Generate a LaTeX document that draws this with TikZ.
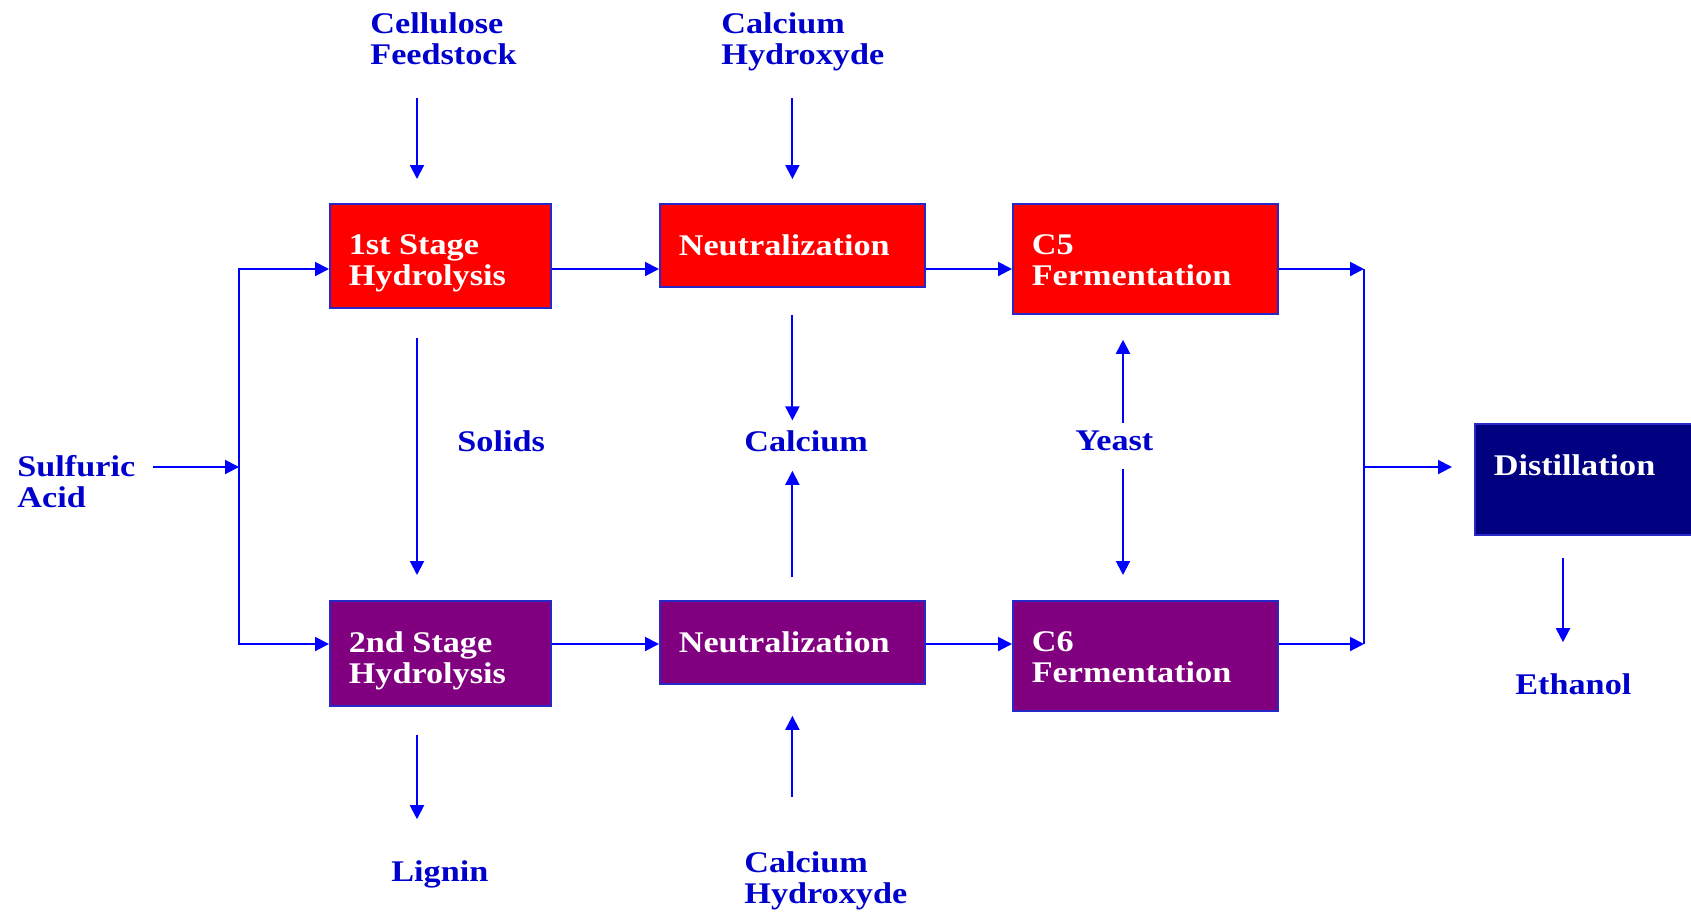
\documentclass[tikz,border=0pt]{standalone}
\usepackage{fontspec}
\setmainfont{Liberation Serif}[FakeStretch=1.14]
\usetikzlibrary{arrows.meta}
\definecolor{procred}{RGB}{255,0,0}
\definecolor{procpurple}{RGB}{128,0,128}
\definecolor{procnavy}{RGB}{0,0,128}
\definecolor{flowblue}{RGB}{0,0,255}
\definecolor{edgeblue}{RGB}{40,40,200}
\definecolor{textblue}{RGB}{0,0,204}

\begin{document}
\begin{tikzpicture}[x=0.5pt,y=-0.5pt,
  font=\fontsize{15}{15.5}\selectfont\bfseries,
  unit/.style={draw=edgeblue, line width=0.9pt, anchor=north west, inner sep=0pt},
  inside/.style={anchor=north west, inner sep=0pt, align=left, text=white,
    xshift=9.7pt, yshift=-15.8pt},
  stream/.style={anchor=west, inner sep=0pt, align=left, text=textblue, text depth=0pt},
  pipe/.style={draw=flowblue, line width=1pt},
  flow/.style={pipe, -{Triangle[length=7pt,width=7pt]}},
  split/.style={pipe, {Triangle[length=7pt,width=7pt]}-{Triangle[length=7pt,width=7pt]}}]
\useasboundingbox (0,0) rectangle (1691,912);

\node[unit, fill=procred, minimum width=110.5pt, minimum height=52pt,
  label={[inside]north west:1st Stage\\Hydrolysis}] (hyd1) at (329,203) {};
\node[unit, fill=procred, minimum width=132.5pt, minimum height=41.5pt,
  label={[inside]north west:Neutralization}] (neu1) at (659,203) {};
\node[unit, fill=procred, minimum width=132.5pt, minimum height=55pt,
  label={[inside]north west:C5\\Fermentation}] (fer5) at (1012,203) {};
\node[unit, fill=procpurple, minimum width=110.5pt, minimum height=52.5pt,
  label={[inside]north west:2nd Stage\\Hydrolysis}] (hyd2) at (329,600) {};
\node[unit, fill=procpurple, minimum width=132.5pt, minimum height=41.5pt,
  label={[inside]north west:Neutralization}] (neu2) at (659,600) {};
\node[unit, fill=procpurple, minimum width=132.5pt, minimum height=55pt,
  label={[inside]north west:C6\\Fermentation}] (fer6) at (1012,600) {};
\node[unit, fill=procnavy, minimum width=115pt, minimum height=55.5pt,
  label={[inside]north west:Distillation}] (dist) at (1474,423) {};

\node[stream] (feed) at (370,39) {Cellulose\\Feedstock};
\node[stream] (caoh1) at (721,39) {Calcium\\Hydroxyde};
\node[stream] (acid) at (17,481) {Sulfuric\\Acid};
\node[stream] (solids) at (457,441) {Solids};
\node[stream] (calcium) at (744,441) {Calcium};
\node[stream] (yeast) at (1075,441) {Yeast};
\node[stream] (lignin) at (391,871) {Lignin};
\node[stream] (caoh2) at (744,878) {Calcium\\Hydroxyde};
\node[stream] (ethanol) at (1515,684) {Ethanol};

\coordinate (toprow) at (0,269);
\coordinate (botrow) at (0,644);
\coordinate (splitL) at (239,467);
\coordinate (mergeR) at (1364,467);
\coordinate (colA) at (417,0);
\coordinate (colC) at (1123,0);
\coordinate (colD) at (1563,0);

\draw[flow, shorten <=8.5pt] (acid.east |- splitL) -- (splitL);
\draw[split] (hyd1.west |- toprow) -| (splitL |- botrow) -- (hyd2.west |- botrow);
\draw[flow] (hyd1.east |- toprow) -- (neu1.west |- toprow);
\draw[flow] (neu1.east |- toprow) -- (fer5.west |- toprow);
\draw[flow] (hyd2.east |- botrow) -- (neu2.west |- botrow);
\draw[flow] (neu2.east |- botrow) -- (fer6.west |- botrow);
\draw[flow] (fer5.east |- toprow) -- (mergeR |- toprow);
\draw[flow] (fer6.east |- botrow) -- (mergeR |- botrow);
\draw[pipe] (mergeR |- toprow) -- (mergeR |- botrow);
\draw[flow, shorten >=11pt] (mergeR) -- (dist.west |- mergeR);

\draw[flow, shorten <=16.5pt, shorten >=12pt] (feed.south -| colA) -- (hyd1.north -| colA);
\draw[flow, shorten <=16.5pt, shorten >=12pt] (caoh1.south -| neu1) -- (neu1.north);
\draw[flow, shorten <=14.5pt, shorten >=12.5pt] (hyd1.south -| colA) -- (hyd2.north -| colA);
\draw[flow, shorten <=13.5pt, shorten >=4.9pt] (neu1.south) -- (calcium.north -| neu1);
\draw[flow, shorten <=11.5pt, shorten >=9.5pt] (neu2.north) -- (calcium.south -| neu2);
\draw[flow, shorten <=4pt, shorten >=12.5pt] (yeast.north -| colC) -- (fer5.south -| colC);
\draw[flow, shorten <=9pt, shorten >=12.5pt] (yeast.south -| colC) -- (fer6.north -| colC);
\draw[flow, shorten <=14pt, shorten >=20.5pt] (hyd2.south -| colA) -- (lignin.north -| colA);
\draw[flow, shorten <=27.5pt, shorten >=15.5pt] (caoh2.north -| neu2) -- (neu2.south);
\draw[flow, shorten <=11pt, shorten >=15.5pt] (dist.south -| colD) -- (ethanol.north -| colD);
\end{tikzpicture}
\end{document}
